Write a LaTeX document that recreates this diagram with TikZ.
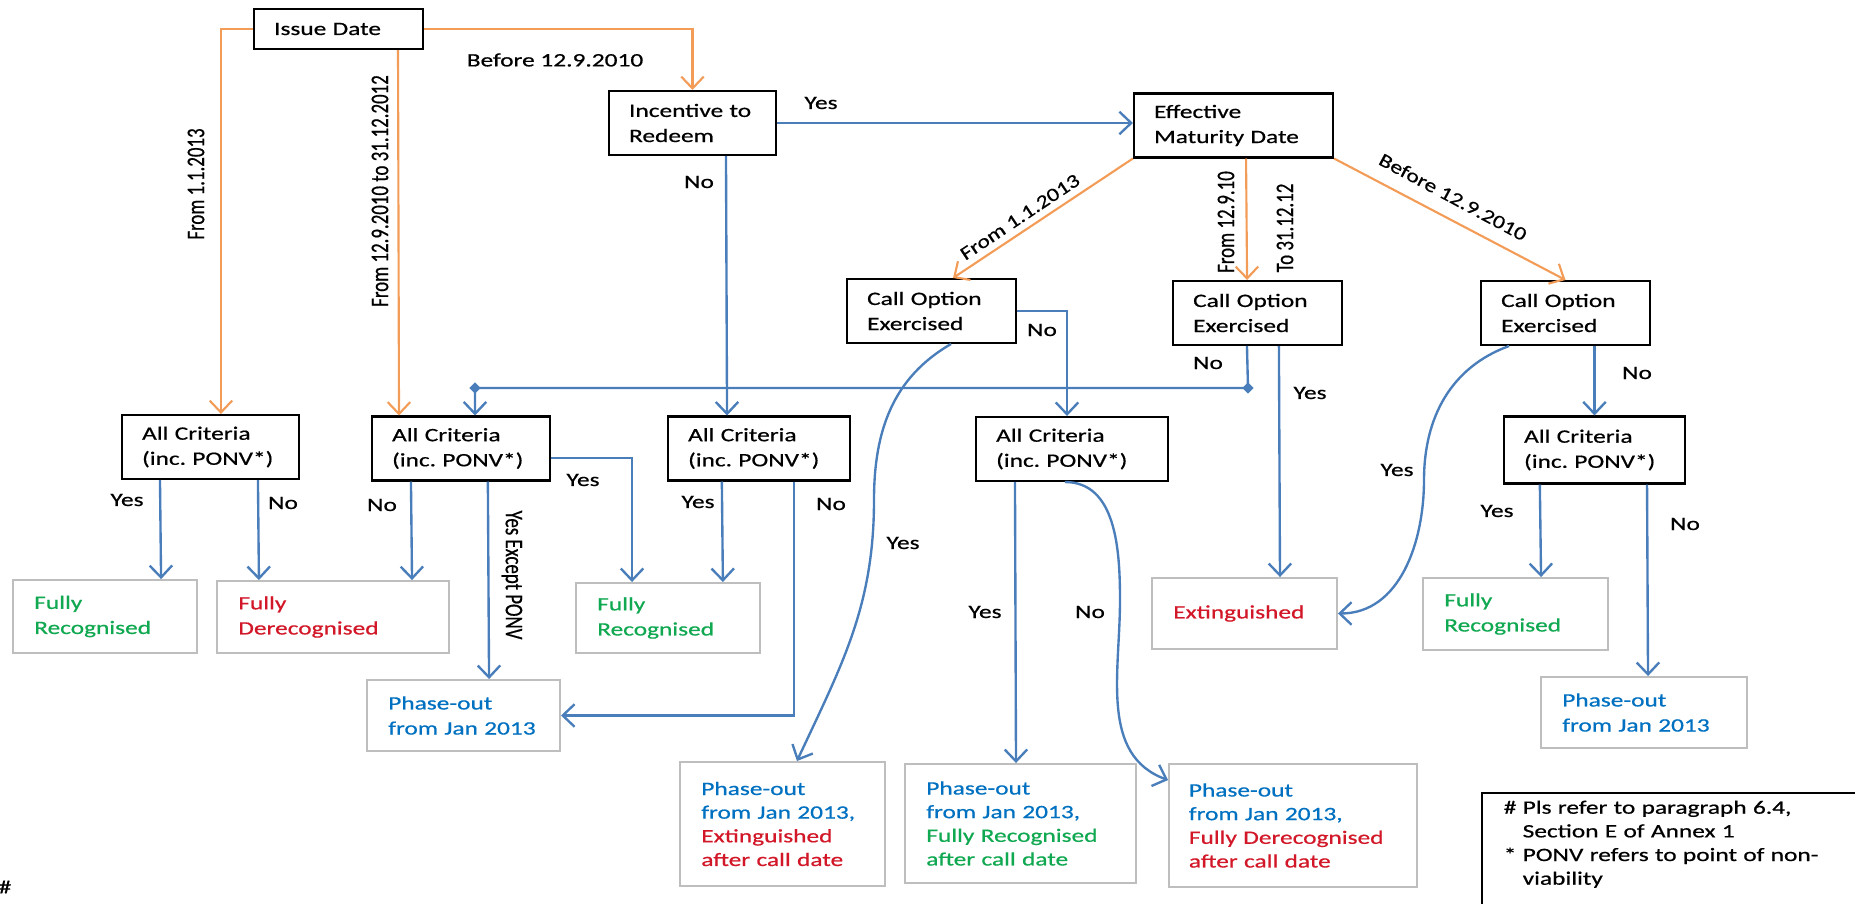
\documentclass[tikz,border=0pt]{standalone}
\usepackage{fontspec}
\setmainfont{Carlito}[FakeStretch=1.34, FakeBold=0.6]
\newfontfamily\vfont{Carlito}[FakeStretch=0.746, FakeBold=0.6]
\newfontfamily\dfont{Carlito}[FakeStretch=1.25, FakeBold=0.6]
\usetikzlibrary{arrows.meta,shapes.geometric}
\definecolor{O}{RGB}{243,156,88}
\definecolor{B}{RGB}{74,126,187}
\definecolor{G}{RGB}{16,168,80}
\definecolor{R}{RGB}{210,24,40}
\definecolor{T}{RGB}{0,112,192}
\definecolor{L}{RGB}{190,190,190}
\tikzset{
  dbox/.style={draw=black, line width=0.9pt, align=left, inner xsep=8.5pt, inner ysep=0pt, minimum height=27pt, text width=#1},
  rbox/.style={draw=L, line width=0.8pt, align=left, inner xsep=9pt, inner ysep=0pt, text width=#1},
  oline/.style={draw=O, line width=0.9pt, -{Straight Barb[length=5pt,width=9.5pt]}},
  bline/.style={draw=B, line width=1pt, -{Straight Barb[length=5pt,width=9.5pt]}},
  lab/.style={inner sep=0pt},
  vlab/.style={inner sep=0pt, font=\vfont\fontsize{10.7}{12}\selectfont},
  dlab/.style={inner sep=0pt, font=\dfont\fontsize{8}{10}\selectfont},
  dmark/.style={diamond, fill=B, inner sep=0pt, minimum size=5pt}
}

\begin{document}
\begin{tikzpicture}[x=0.4226pt, y=0.4226pt, font=\fontsize{8}{10.6}\selectfont]
   \useasboundingbox (0,0) rectangle (1855,903);
   \clip (0,0) rectangle (1855,903);

   %Cajas de decision
   \node[dbox=54.4pt, minimum height=16.9pt] (issue) at (338.5,874) {Issue Date};
   \node[dbox=53.6pt] (inc) at (692.5,780) {Incentive~to\\Redeem};
   \node[dbox=67.1pt] (emd) at (1233.5,777.5) {Effective\\Maturity Date};
   \node[dbox=54.4pt] (co1) at (931.5,592) {Call Option\\Exercised};
   \node[dbox=54.4pt] (co2) at (1257.5,590) {Call Option\\Exercised};
   \node[dbox=54.4pt] (co3) at (1565.5,590) {Call Option\\Exercised};
   \node[dbox=57.8pt] (ac1) at (210.5,456) {All Criteria\\(inc.~PONV*)};
   \node[dbox=58.2pt] (ac2) at (461,454.5) {All Criteria\\(inc.~PONV*)};
   \node[dbox=59.9pt] (ac3) at (759,454.5) {All Criteria\\(inc.~PONV*)};
   \node[dbox=64.1pt] (ac4) at (1072,454) {All Criteria\\(inc.~PONV*)};
   \node[dbox=59.5pt, minimum height=28.3pt] (ac5) at (1594.5,453) {All Criteria\\(inc.~PONV*)};

   %Resultados
   \node[rbox=59.8pt, minimum height=30.8pt, text=G] (fr1) at (105,286.5) {Fully\\Recognised};
   \node[rbox=80pt, minimum height=30.4pt, text=R] (fd) at (333,286) {Fully\\Derecognised};
   \node[rbox=59.8pt, minimum height=29.6pt, text=G] (fr2) at (668,285) {Fully\\Recognised};
   \node[rbox=60.2pt, minimum height=30pt, text=R] (ext) at (1244.5,289.5) {Extinguished};
   \node[rbox=60.2pt, minimum height=30.4pt, text=G] (fr3) at (1515.5,289) {Fully\\Recognised};
   \node[rbox=63.6pt, minimum height=30pt, text=T] (po1) at (463.5,187.5) {Phase-out\\from~Jan~2013};
   \node[rbox=69.1pt, minimum height=30pt, text=T] (po2) at (1644,190.5) {Phase-out\\from~Jan~2013};
   \begin{scope}[font=\fontsize{8}{10}\selectfont]
   \node[rbox=68.6pt, minimum height=52.4pt, text=T] (b1) at (782.5,79) {Phase-out\\from Jan 2013,\\\textcolor{R}{Extinguished}\\\textcolor{R}{after call date}};
   \node[rbox=79.6pt, minimum height=50.3pt, text=T] (b2) at (1020.5,79.5) {Phase-out\\from Jan 2013,\\\textcolor{G}{Fully~Recognised}\\\textcolor{G}{after call date}};
   \node[rbox=88pt, inner xsep=8.4pt, minimum height=52pt, text=T] (b3) at (1293,77.5) {Phase-out\\from Jan 2013,\\\textcolor{R}{Fully~Derecognised}\\\textcolor{R}{after call date}};

   %Nota
   \node[anchor=north west, align=left, text width=170pt, inner xsep=9pt, inner ysep=3pt] (note) at (1482,110)
      {\#~Pls refer to paragraph 6.4,\\\hspace*{1em}Section E of Annex 1\\{*}~PONV refers to point of non-\\\hspace*{1em}viability};
   \draw[line width=1.2pt] (note.north west) rectangle (1900,-40);
   \end{scope}
   \node[lab] (hash) at (5,16) {\#};

   %Flechas naranjas (fechas)
   \draw[oline] (issue.west) -| ([xshift=4.4pt]ac1.north);
   \draw[oline] ([xshift=61.3pt]issue.south west) -- ([xshift=-26.2pt]ac2.north);
   \draw[oline] (issue.east) -| (inc.north);
   \draw[oline] (emd.south west) -- ([xshift=9.1pt]co1.north);
   \draw[oline] ([xshift=47.8pt]emd.south west) -- ([xshift=-4.4pt]co2.north);
   \draw[oline] (emd.south east) -- (co3.north);
   \node[vlab, rotate=90] (l1) at (196,719) {From 1.1.2013};
   \node[vlab, rotate=90] (l2) at (380,712) {From 12.9.2010 to 31.12.2012};
   \node[lab] (l3) at (555,843) {Before 12.9.2010};
   \node[dlab, rotate=33.8] (l6) at (1020,686) {From 1.1.2013};
   \node[vlab, rotate=90] (l7) at (1226,681) {From 12.9.10};
   \node[vlab, rotate=90] (l8) at (1285,675) {To 31.12.12};
   \node[dlab, rotate=-28.2] (l9) at (1453,706) {Before 12.9.2010};

   %Flechas azules
   \draw[bline] (inc.east) -- (inc.east -| emd.west);
   \draw[bline] ([xshift=49.9pt]inc.south west) -- ([xshift=-13.5pt]ac3.north);
   \draw[bline] (co1.east) -| ([xshift=-2.1pt]ac4.north);
   \node[dmark] (dmr) at (1248,515) {};
   \node[dmark] (dml) at (475,515) {};
   \draw[bline] ([xshift=31.7pt]co2.south west) -- (dmr.center) -- (dml.center) -- (dml.center |- ac2.north);
   \draw[bline] ([xshift=45.2pt]co2.south west) -- ([xshift=15pt]ext.north);
   \draw[bline] ([xshift=12.3pt]co3.south west) to[out=200,in=90] (1424,423) to[out=-90,in=0] (ext.east);
   \draw[bline] (co3.south -| ac5.north) -- (ac5.north);
   \draw[bline] ([xshift=16.5pt]ac1.south west) -- ([xshift=23.7pt]fr1.north);
   \draw[bline] ([xshift=57.9pt]ac1.south west) -- ([xshift=-31.3pt]fd.north);
   \draw[bline] ([xshift=16.9pt]ac2.south west) -- ([xshift=33.4pt]fd.north);
   \draw[bline] ([xshift=49.4pt]ac2.south west) -- ([xshift=10.8pt]po1.north);
   \draw[bline] ([yshift=-4pt]ac2.east) -| ([xshift=-15.2pt]fr2.north);
   \draw[bline] ([xshift=23.2pt]ac3.south west) -- ([xshift=23.2pt]fr2.north);
   \draw[bline] ([xshift=53.7pt]ac3.south west) |- (po1.east);
   \draw[bline] ([xshift=44.4pt]co1.south west) to[out=210,in=90] (874,403) to[out=-90,in=65] ([xshift=6.1pt]b1.north);
   \draw[bline] ([xshift=16.9pt]ac4.south west) -- ([xshift=-1.9pt]b2.north);
   \draw[bline] ([xshift=38pt]ac4.south west) to[out=0,in=90] (1120,303) to[out=-90,in=160] ([yshift=19.2pt]b3.west);
   \draw[bline] ([xshift=15.6pt]ac5.south west) -- ([xshift=10.8pt]fr3.north);
   \draw[bline] ([xshift=60.9pt]ac5.south west) -- ([xshift=1.7pt]po2.north);

   %Etiquetas Yes / No
   \node[lab] (l4) at (821,800) {Yes};
   \node[lab] (l5) at (699,721) {No};
   \node[lab] (l10) at (1042,573) {No};
   \node[lab] (l11) at (1208,540) {No};
   \node[lab] (l12) at (1310,510) {Yes};
   \node[lab] (l13) at (1637,530) {No};
   \node[lab] (l14) at (127,403) {Yes};
   \node[lab] (l15) at (283,400) {No};
   \node[lab] (l16) at (382,398) {No};
   \node[lab] (l17) at (583,423) {Yes};
   \node[vlab, rotate=-90] (l18) at (512,328) {Yes Except PONV};
   \node[lab] (l19) at (698,401) {Yes};
   \node[lab] (l20) at (831,399) {No};
   \node[lab] (l21) at (903,360) {Yes};
   \node[lab] (l22) at (985,291) {Yes};
   \node[lab] (l23) at (1090,291) {No};
   \node[lab] (l24) at (1397,433) {Yes};
   \node[lab] (l25) at (1497,392) {Yes};
   \node[lab] (l26) at (1685,379) {No};
\end{tikzpicture}
\end{document}
